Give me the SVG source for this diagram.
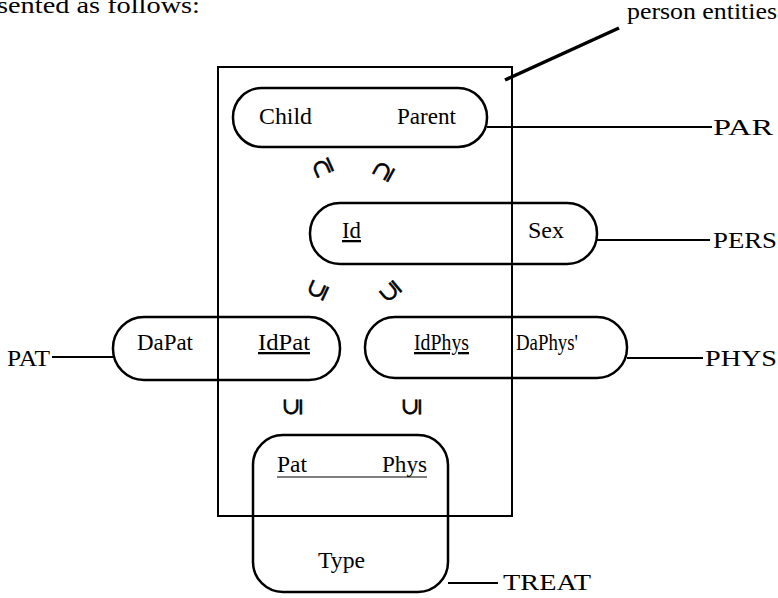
<svg xmlns="http://www.w3.org/2000/svg" width="778" height="598" viewBox="0 0 778 598">
<style>
text{font-family:"Liberation Serif","Times New Roman",serif;font-size:23px;fill:#000}
.n{fill:none;stroke:#000;stroke-width:2.5}
.c{fill:none;stroke:#000;stroke-width:2}
.s{font-family:"DejaVu Serif","DejaVu Sans",serif;font-size:23px;text-anchor:middle;dominant-baseline:central;stroke:#000;stroke-width:0.6}
</style>
<rect width="778" height="598" fill="#fff"/>
<text x="-3" y="13" font-size="24" textLength="203" lengthAdjust="spacingAndGlyphs">sented as follows:</text>
<text x="627" y="19" font-size="20" textLength="150" lengthAdjust="spacingAndGlyphs">person entities</text>
<g id="container"><rect x="218" y="67" width="294" height="449" class="c"/></g>
<g id="connectors">
<line x1="505" y1="80" x2="619" y2="28" stroke="#000" stroke-width="3.5"/>
<line x1="487" y1="127" x2="712" y2="127" class="c"/>
<line x1="597" y1="240" x2="710" y2="240" class="c"/>
<line x1="627" y1="358" x2="703" y2="358" class="c"/>
<line x1="52" y1="357" x2="113" y2="357" class="c"/>
<line x1="448" y1="583" x2="498" y2="583" class="c"/>
</g>
<g id="PAR">
<rect x="233" y="88" width="254" height="59" rx="29" class="n"/>
<text x="259" y="124" textLength="53" lengthAdjust="spacingAndGlyphs">Child</text>
<text x="397" y="124" textLength="59" lengthAdjust="spacingAndGlyphs">Parent</text>
<text x="713" y="135" textLength="60" lengthAdjust="spacingAndGlyphs">PAR</text>
</g>
<g id="PERS">
<rect x="310" y="203" width="287" height="61" rx="30" class="n"/>
<text x="342" y="238" text-decoration="underline" textLength="19" lengthAdjust="spacingAndGlyphs">Id</text>
<text x="528" y="238" textLength="36" lengthAdjust="spacingAndGlyphs">Sex</text>
<text x="713" y="248" textLength="64" lengthAdjust="spacingAndGlyphs">PERS</text>
</g>
<g id="PAT">
<rect x="113" y="317" width="227" height="63" rx="31" class="n"/>
<text x="137" y="350" textLength="56" lengthAdjust="spacingAndGlyphs">DaPat</text>
<text x="258" y="350" text-decoration="underline" textLength="52" lengthAdjust="spacingAndGlyphs">IdPat</text>
<text x="7" y="366" textLength="43" lengthAdjust="spacingAndGlyphs">PAT</text>
</g>
<g id="PHYS">
<rect x="365" y="317" width="262" height="61" rx="30" class="n"/>
<text x="414" y="350" text-decoration="underline" textLength="55" lengthAdjust="spacingAndGlyphs">IdPhys</text>
<text x="516" y="350" textLength="62" lengthAdjust="spacingAndGlyphs">DaPhys'</text>
<text x="705" y="366" textLength="72" lengthAdjust="spacingAndGlyphs">PHYS</text>
</g>
<g id="TREAT">
<rect x="253" y="435" width="195" height="157" rx="30" class="n"/>
<text x="277" y="472" textLength="30" lengthAdjust="spacingAndGlyphs">Pat</text>
<text x="382" y="472" textLength="45" lengthAdjust="spacingAndGlyphs">Phys</text>
<line x1="277" y1="477" x2="427" y2="477" stroke="#000" stroke-width="1.2"/>
<text x="318" y="568" textLength="47" lengthAdjust="spacingAndGlyphs">Type</text>
<text x="503" y="590" textLength="88" lengthAdjust="spacingAndGlyphs">TREAT</text>
</g>
<g id="inclusions">
<text class="s" transform="translate(322,168) rotate(-114)">⊇</text>
<text class="s" transform="translate(383,171) rotate(-61)">⊇</text>
<text class="s" transform="translate(317,290) rotate(-65)">⊆</text>
<text class="s" transform="translate(390,292) rotate(-130)">⊆</text>
<text class="s" transform="translate(292,407) rotate(-90)">⊆</text>
<text class="s" transform="translate(411,407) rotate(-90)">⊆</text>
</g>
</svg>
